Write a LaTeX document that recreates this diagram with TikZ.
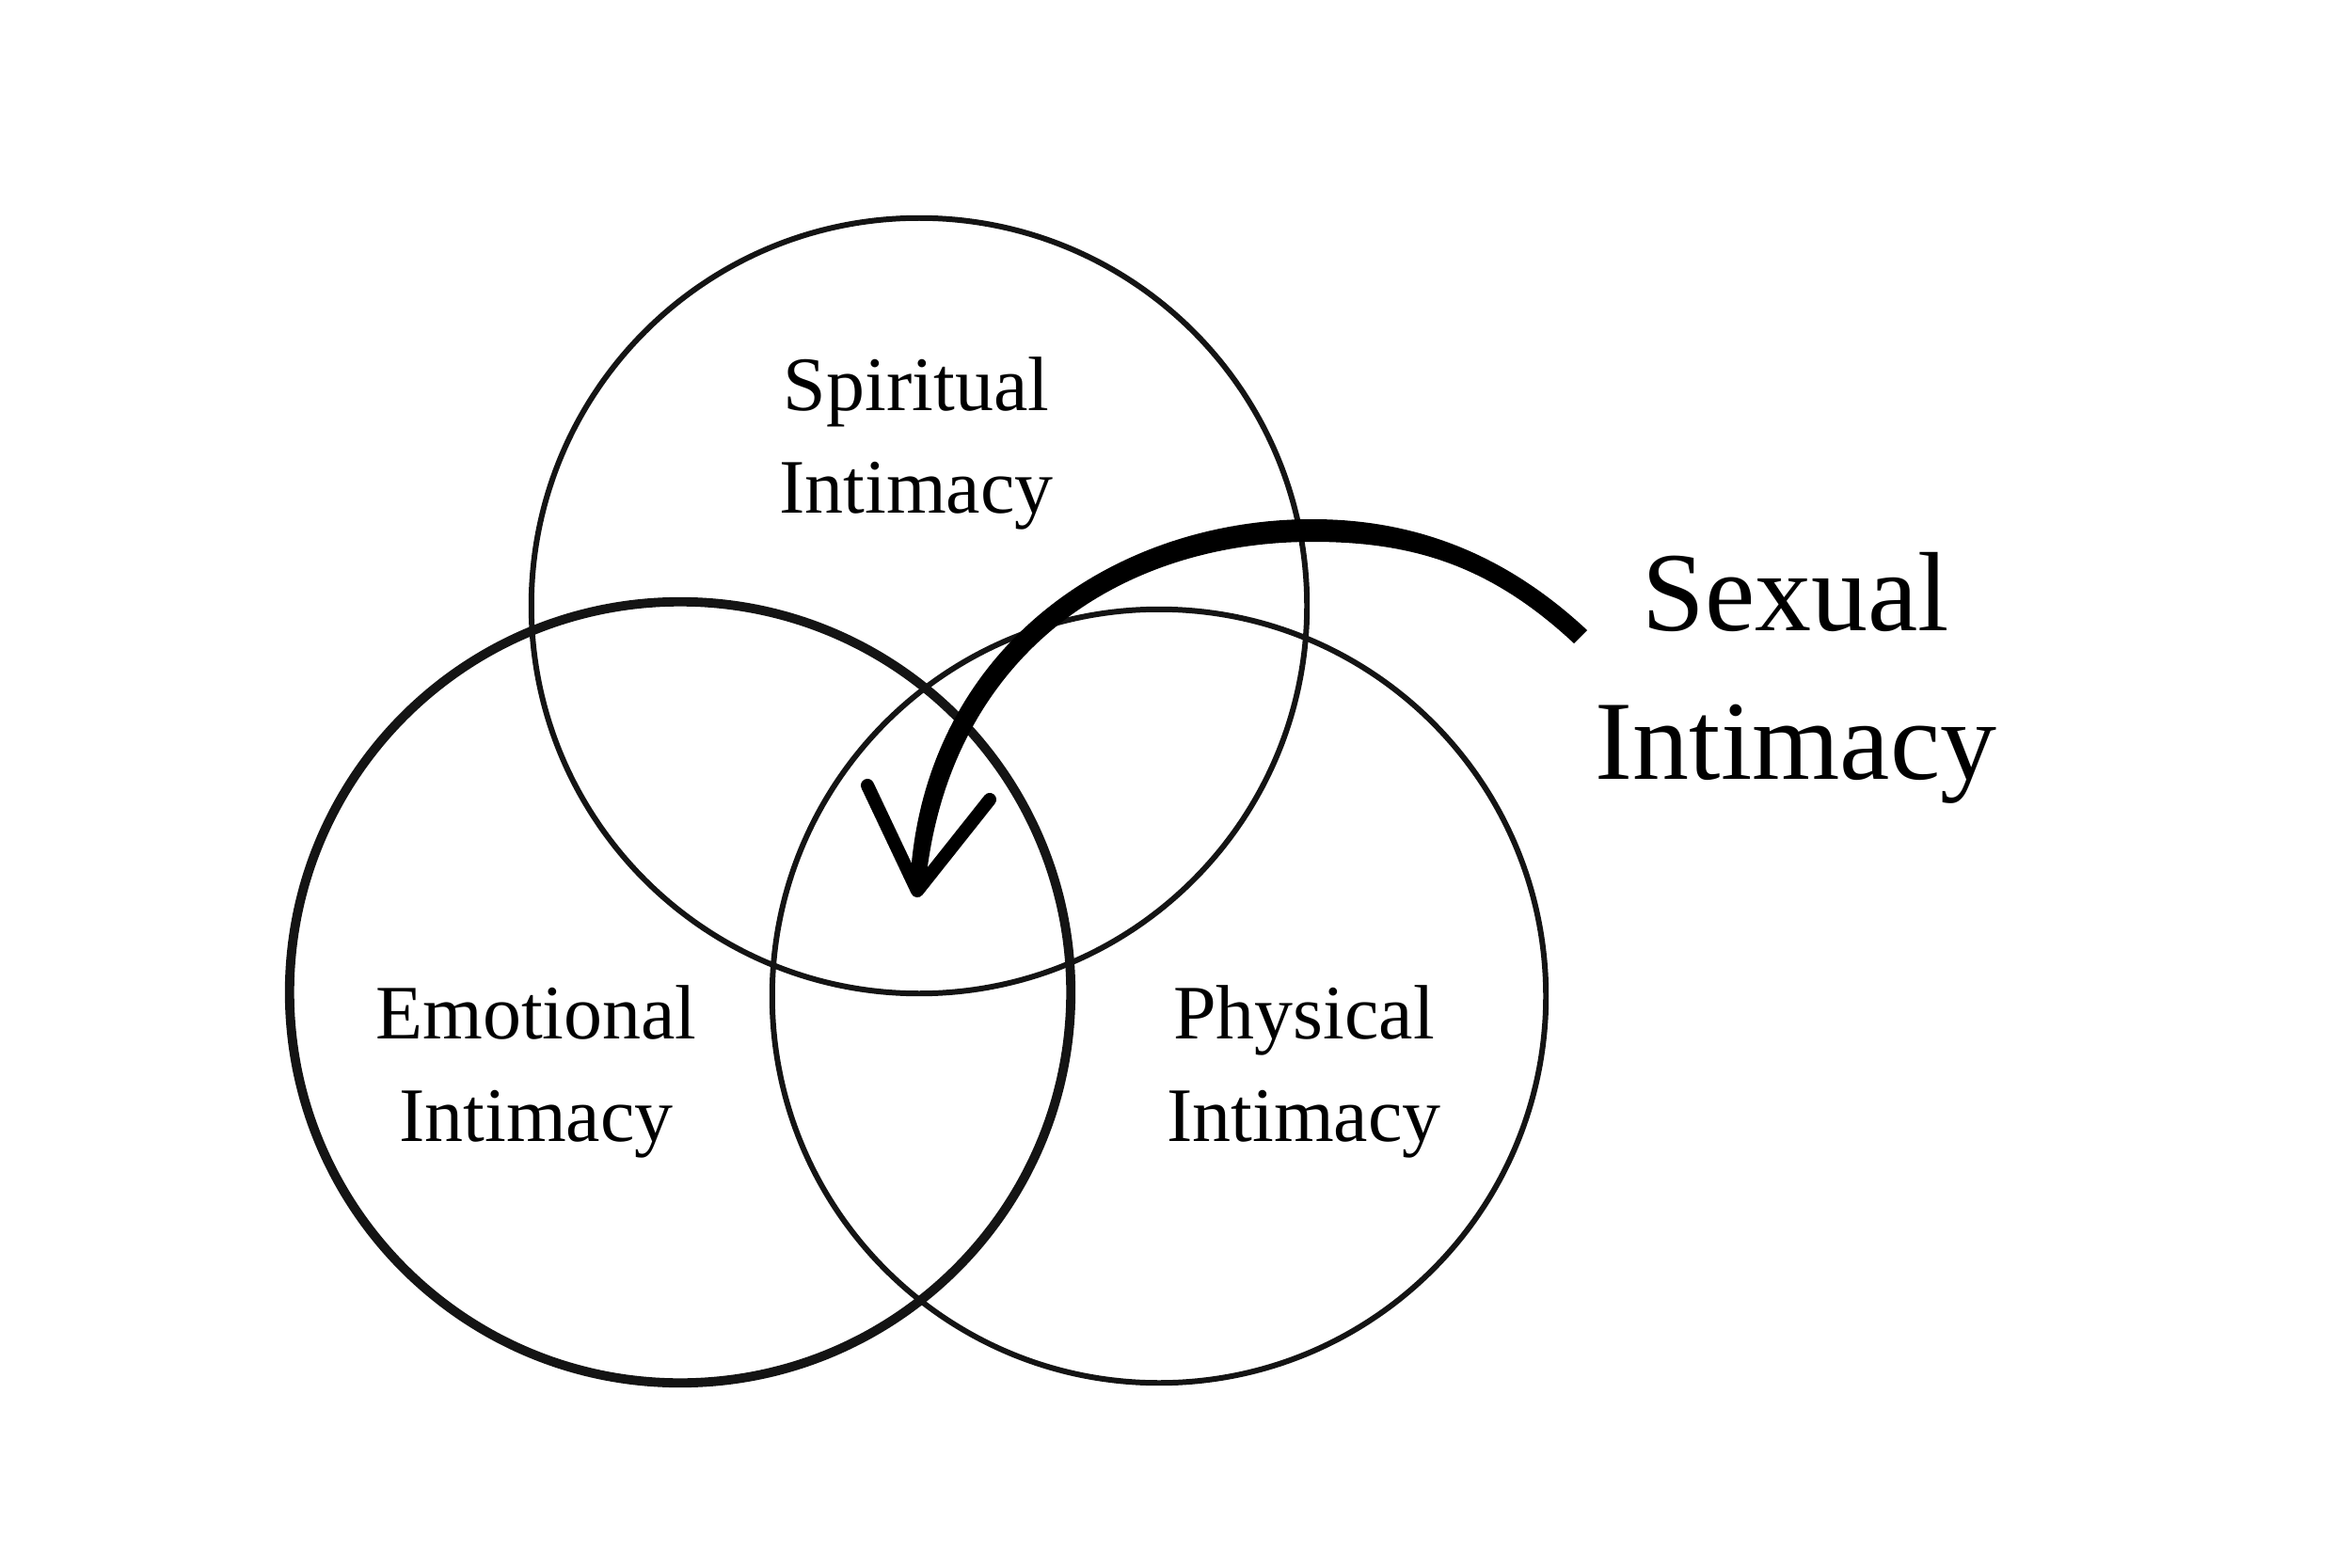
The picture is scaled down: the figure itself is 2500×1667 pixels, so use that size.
\documentclass[tikz,border=0pt]{standalone}
\usepackage{fontspec}
\setmainfont{Liberation Serif}
\begin{document}
\begin{tikzpicture}[x=0.01cm,y=-0.01cm,
  ring/.style={draw=black!92,line width=1.7pt},
  thickring/.style={draw=black!92,line width=2.8pt},
  lbl/.style={anchor=base,inner sep=0pt,font=\fontsize{23.3}{28}\selectfont},
  biglbl/.style={anchor=base,inner sep=0pt,font=\fontsize{34.1}{41}\selectfont},
  arm/.style={draw=black,line width=4pt,line cap=round,line join=round}]
\useasboundingbox[fill=white] (0,0) rectangle (2500,1667);
% circle centres
\coordinate (cs) at (977,644);
\coordinate (ce) at (723,1055);
\coordinate (cp) at (1232,1059);
\draw[ring] (cs) circle[radius=4.12cm];
\draw[thickring] (ce) circle[radius=4.15cm];
\draw[ring] (cp) circle[radius=4.11cm];
% labels
\node[lbl] (s1) at (974,437) {Spiritual};
\node[lbl] (s2) at (974,545) {Intimacy};
\node[lbl] (e1) at (570,1104) {Emotional};
\node[lbl] (e2) at (570,1213) {Intimacy};
\node[lbl] (p1) at (1386,1104) {Physical};
\node[lbl] (p2) at (1386,1213) {Intimacy};
\node[biglbl] (x1) at (1909,670) {Sexual};
\node[biglbl] (x2) at (1909,828) {Intimacy};
% tapered arrow
\coordinate (tail) at (1680,677);
\coordinate (tip) at (975,947);
\fill[black] (1687,670) .. controls (1597,586) and (1500,552) .. (1395,552)
  .. controls (1175,552) and (976,698) .. (967,946)
  -- (983,948)
  .. controls (1004,702) and (1185,576) .. (1395,576)
  .. controls (1500,576) and (1583,600) .. (1673,684) -- cycle;
\coordinate (al) at (922,835);
\coordinate (ar) at (1052,850);
\draw[arm] (al) -- (tip) -- (ar);
\end{tikzpicture}
\end{document}
